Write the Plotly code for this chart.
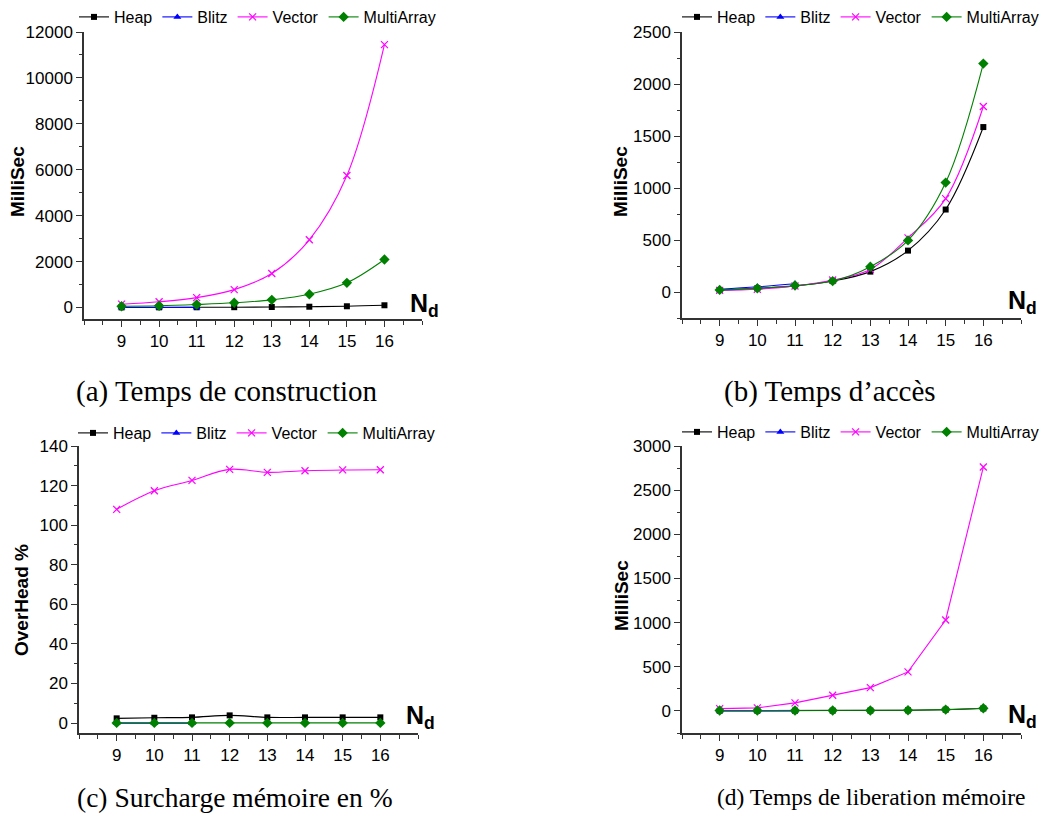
import plotly.graph_objects as go

# ---------------- data ----------------
nd = [9, 10, 11, 12, 13, 14, 15, 16]
nd_blitz = [9, 10, 11]
series_names = ["Heap", "Blitz", "Vector", "MultiArray"]

# (a) Temps de construction
a_heap = [5, 8, 10, 14, 22, 35, 55, 98]
a_blitz = [3, 4, 6]
a_vector = [145, 250, 430, 780, 1480, 2950, 5750, 11450]
a_multi = [58, 75, 130, 205, 335, 580, 1075, 2090]

# (b) Temps d'accès
b_heap = [19, 36, 58, 105, 196, 398, 793, 1586]
b_blitz = [26, 50, 80]
b_vector = [15, 26, 58, 115, 217, 521, 898, 1784]
b_multi = [20, 35, 62, 105, 243, 496, 1052, 2196]

# (c) Surcharge mémoire en %
c_heap = [2.4, 2.7, 2.9, 3.9, 2.9, 2.9, 2.9, 2.9]
c_blitz = [0, 0, 0]
c_vector = [108.0, 117.4, 122.6, 128.2, 126.7, 127.5, 127.9, 128.0]
c_multi = [0.1, 0.1, 0.1, 0.1, 0.1, 0.1, 0.1, 0.1]

# (d) Temps de liberation mémoire
d_heap = [2, 2, 3, 3, 4, 7, 14, 28]
d_blitz = [1, 1, 1]
d_vector = [26, 34, 91, 177, 264, 442, 1030, 2762]
d_multi = [4, 4, 4, 4, 5, 8, 15, 30]

captions = ["(a) Temps de construction", "(b) Temps d\u2019accès",
            "(c) Surcharge mémoire en %", "(d) Temps de liberation mémoire"]
y_titles = ["MilliSec", "MilliSec", "OverHead %", "MilliSec"]
x_tick_vals = [9, 10, 11, 12, 13, 14, 15, 16]
x_tick_text = ["9", "10", "11", "12", "13", "14", "15", "16"]

# ---------------- style ----------------
W, H = 1050, 825
colors = {"Heap": "#000000", "Blitz": "#0000FF", "Vector": "#FF00FF", "MultiArray": "#008000"}
symbols = {"Heap": "square", "Blitz": "triangle-up", "Vector": "x-thin", "MultiArray": "diamond"}
msize = {"Heap": 6, "Blitz": 7, "Vector": 7, "MultiArray": 8}
SANS = "Liberation Sans, Arial, sans-serif"
SERIF = "Liberation Serif, Times New Roman, serif"
AX = "#333333"

def px_x(p):
    return p / W

def px_y(p):
    return 1 - p / H

# panel geometry in pixels
panels = [
    dict(x0=84, x1=422, yt=32, yb=319, yr=[-500, 12000], dt=2000, shape="spline",
         data=(a_heap, a_blitz, a_vector, a_multi), leg=(74, 0),
         ytitle=(18, 182), nd=(424, 305), cap=(227, 392), capsize=29),
    dict(x0=682, x1=1021, yt=32, yb=318, yr=[-250, 2500], dt=500, shape="spline",
         data=(b_heap, b_blitz, b_vector, b_multi), leg=(677, 0),
         ytitle=(621, 182), nd=(1022, 302), cap=(830, 392), capsize=29),
    dict(x0=79, x1=418, yt=446, yb=733, yr=[-5, 140], dt=20, shape="spline",
         data=(c_heap, c_blitz, c_vector, c_multi), leg=(73, 416),
         ytitle=(21, 600), nd=(420, 717), cap=(235, 797), capsize=27.5),
    dict(x0=682, x1=1021, yt=446, yb=733, yr=[-250, 3000], dt=500, shape="linear",
         data=(d_heap, d_blitz, d_vector, d_multi), leg=(677, 415),
         ytitle=(621, 596), nd=(1022, 716), cap=(871, 797), capsize=23.5),
]

fig = go.Figure()
layout = dict(template="none", width=W, height=H, margin=dict(l=0, r=0, t=0, b=0, pad=0),
              paper_bgcolor="white", plot_bgcolor="white", showlegend=True,
              font=dict(family=SANS, color="#000000"), annotations=[])

for i, p in enumerate(panels, start=1):
    sfx = "" if i == 1 else str(i)
    xa, ya = "x" + sfx, "y" + sfx
    legname = "legend" + sfx
    for name, vals in zip(series_names, p["data"]):
        xs = nd_blitz if name == "Blitz" else nd
        fig.add_trace(go.Scatter(
            x=xs, y=vals, name=name, xaxis=xa, yaxis=ya, legend=legname,
            mode="lines+markers",
            line=dict(color=colors[name], width=1.1, shape=p["shape"], smoothing=1),
            marker=dict(symbol=symbols[name], size=msize[name], color=colors[name],
                        line=dict(color=colors[name], width=1.2 if name == "Vector" else 0)),
        ))
    layout["xaxis" + sfx] = dict(
        domain=[px_x(p["x0"]), px_x(p["x1"])], anchor=ya, range=[8, 17],
        tickmode="array", tickvals=x_tick_vals, ticktext=x_tick_text,
        ticks="outside", ticklen=6, tickwidth=1.2, tickcolor=AX,
        showline=True, linecolor=AX, linewidth=1.5, showgrid=False, zeroline=False,
        automargin=False,
        tickfont=dict(family=SANS, size=17, color="#000000"),
        minor=dict(tickmode="linear", tick0=8, dtick=0.5, ticks="outside",
                   ticklen=4, tickwidth=1, tickcolor=AX, showgrid=False),
        fixedrange=True,
    )
    layout["yaxis" + sfx] = dict(
        domain=[px_y(p["yb"]), px_y(p["yt"])], anchor=xa, range=p["yr"],
        tickmode="linear", tick0=0, dtick=p["dt"], tickformat="d",
        ticks="outside", ticklen=6, tickwidth=1.2, tickcolor=AX,
        showline=True, linecolor=AX, linewidth=1.5, showgrid=False, zeroline=False,
        automargin=False,
        tickfont=dict(family=SANS, size=17, color="#000000"),
        minor=dict(tickmode="linear", tick0=p["dt"] / 2, dtick=p["dt"], ticks="outside",
                   ticklen=3, tickwidth=1, tickcolor=AX, showgrid=False),
        fixedrange=True,
    )
    layout[legname] = dict(
        orientation="h", x=px_x(p["leg"][0]), y=px_y(p["leg"][1]),
        xanchor="left", yanchor="top", bgcolor="rgba(0,0,0,0)", borderwidth=0,
        font=dict(family=SANS, size=16, color="#000000"),
        itemwidth=30, tracegroupgap=0,
    )
    # y axis title
    layout["annotations"].append(dict(
        text="<b>" + y_titles[i - 1] + "</b>", textangle=-90,
        x=px_x(p["ytitle"][0]), y=px_y(p["ytitle"][1]), xref="paper", yref="paper",
        xanchor="center", yanchor="middle", showarrow=False,
        font=dict(family=SANS, size=19, color="#000000")))
    # N_d label
    layout["annotations"].append(dict(
        text="<b>N<sub>d</sub></b>",
        x=px_x(p["nd"][0]), y=px_y(p["nd"][1]), xref="paper", yref="paper",
        xanchor="center", yanchor="middle", showarrow=False,
        font=dict(family=SANS, size=25, color="#000000")))
    # caption
    layout["annotations"].append(dict(
        text=captions[i - 1],
        x=px_x(p["cap"][0]), y=px_y(p["cap"][1]), xref="paper", yref="paper",
        xanchor="center", yanchor="middle", showarrow=False,
        font=dict(family=SERIF, size=p["capsize"], color="#000000")))

fig.update_layout(**layout)
fig.write_html("out.html", config={"displayModeBar": False},
               post_script="document.body.style.margin='0px';")
